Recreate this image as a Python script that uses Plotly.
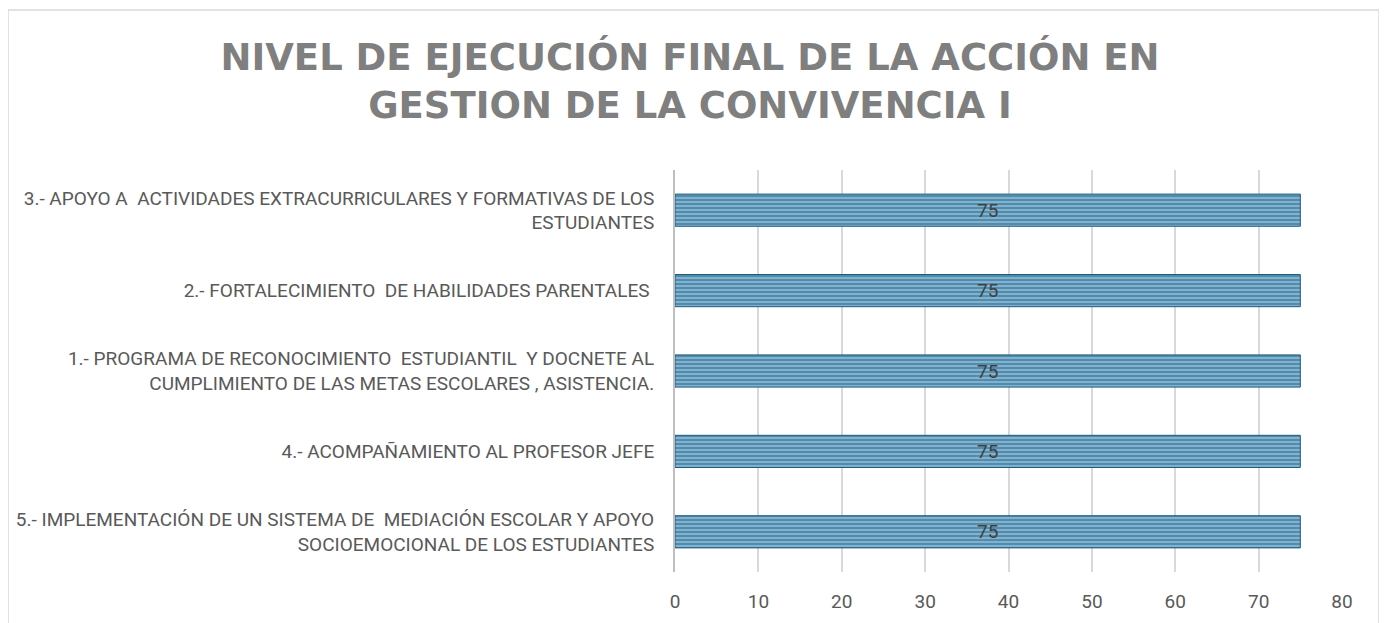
import plotly.graph_objects as go

categories = [
    "5.- IMPLEMENTACIÓN DE UN SISTEMA DE  MEDIACIÓN ESCOLAR Y APOYO<br>SOCIOEMOCIONAL DE LOS ESTUDIANTES",
    "4.- ACOMPAÑAMIENTO AL PROFESOR JEFE",
    "1.- PROGRAMA DE RECONOCIMIENTO  ESTUDIANTIL  Y DOCNETE AL<br>CUMPLIMIENTO DE LAS METAS ESCOLARES , ASISTENCIA.",
    "2.- FORTALECIMIENTO  DE HABILIDADES PARENTALES ",
    "3.- APOYO A  ACTIVIDADES EXTRACURRICULARES Y FORMATIVAS DE LOS<br>ESTUDIANTES",
]
values = [75, 75, 75, 75, 75]
x_ticks = [0, 10, 20, 30, 40, 50, 60, 70, 80]

title_text = "NIVEL DE EJECUCIÓN FINAL DE LA ACCIÓN EN<br>GESTION DE LA CONVIVENCIA I"

label_font = "Liberation Sans Narrow, Arial Narrow, Roboto, sans-serif"

# page has an 8px body margin, so the figure is drawn 8px smaller
W, H = 1379, 615
ML, MR, MT, MB = 667, 45, 162, 51
pw, ph = W - ML - MR, H - MT - MB

fig = go.Figure()

fig.add_trace(go.Bar(
    x=values,
    y=categories,
    orientation="h",
    width=0.4,
    marker=dict(
        color="#8CBCD8",
        line=dict(color="#1A5A7E", width=1),
        pattern=dict(shape="-", fgcolor="#1A5A7E", size=4, solidity=0.6, fillmode="overlay"),
    ),
    text=values,
    textposition="inside",
    insidetextanchor="middle",
    textfont=dict(family=label_font, size=19, color="#404040"),
    hoverinfo="x+y",
))

fig.update_layout(
    width=W,
    height=H,
    paper_bgcolor="white",
    plot_bgcolor="white",
    margin=dict(l=ML, r=MR, t=MT, b=MB),
    showlegend=False,
    title=dict(
        text=title_text,
        x=(690 - 8) / W,
        xanchor="center",
        y=1 - 62 / H,
        yanchor="top",
        font=dict(family="DejaVu Sans, sans-serif", size=37, color="#7F7F7F", weight="bold"),
    ),
    xaxis=dict(
        range=[0, 80],
        tickvals=x_ticks,
        showgrid=True,
        gridcolor="#D9D9D9",
        gridwidth=1.5,
        zeroline=False,
        showline=False,
        automargin=False,
        tickfont=dict(family=label_font, size=19, color="#595959"),
        ticks="",
        ticklabelstandoff=16,
    ),
    yaxis=dict(
        showgrid=False,
        showline=True,
        linecolor="#BFBFBF",
        linewidth=2,
        automargin=False,
        ticks="",
        tickfont=dict(family=label_font, size=19, color="#595959"),
        ticklabelstandoff=15,
    ),
    shapes=[dict(
        type="rect",
        xref="paper", yref="paper",
        x0=(0 - ML) / pw, x1=(1371 - ML) / pw,
        y0=(MT + ph - 700) / ph, y1=(MT + ph - 2) / ph,
        line=dict(color="#D9D9D9", width=1.5),
        fillcolor="rgba(0,0,0,0)",
        layer="below",
    )],
)

fig.write_html("out.html")
